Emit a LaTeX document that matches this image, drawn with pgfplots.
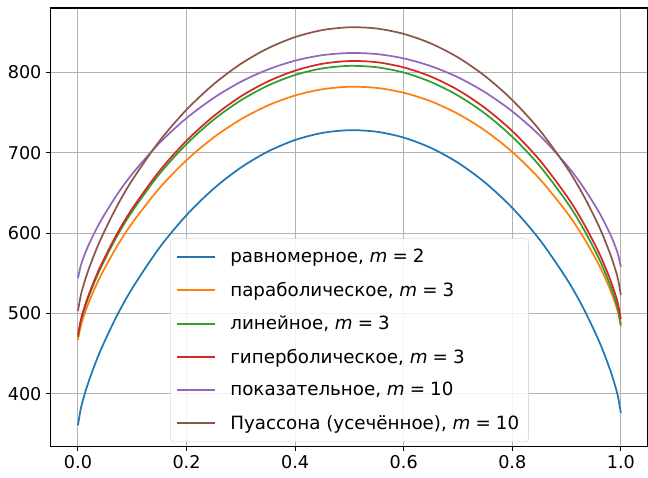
\documentclass[border=0pt]{standalone}
\usepackage{fontspec}
\setmainfont{DejaVu Sans}
\usepackage{pgfplots}
\pgfplotsset{compat=1.18}
\definecolor{c0}{HTML}{1F77B4}
\definecolor{c1}{HTML}{FF7F0E}
\definecolor{c2}{HTML}{2CA02C}
\definecolor{c3}{HTML}{D62728}
\definecolor{c4}{HTML}{9467BD}
\definecolor{c5}{HTML}{8C564B}
\newcommand{\fs}{\fontsize{13.2}{15}\selectfont}
\newcommand{\lfs}{\fontsize{13.7}{15}\selectfont}
\begin{document}
\begin{tikzpicture}
\begin{axis}[
  scale only axis, width=447.75pt, height=328.5pt,
  xmin=-0.05, xmax=1.05, ymin=335, ymax=880,
  xtick={0,0.2,0.4,0.6,0.8,1.0},
  ytick={400,500,600,700,800},
  /pgf/number format/assume math mode=true,
  x tick label style={/pgf/number format/.cd, fixed, fixed zerofill, precision=1, /tikz/.cd},
  tick label style={font=\fs},
  grid=major, major grid style={color=gray!60, line width=0.8pt},
  tick align=outside, tick pos=left, major tick length=3.5pt,
  axis line style={line width=0.9pt},
  every tick/.style={black, line width=0.8pt},
  legend style={
    at={(0.5,0)}, anchor=south, yshift=3pt,
    draw=gray!30, rounded corners=2.5pt, fill=white, fill opacity=0.85, text opacity=1, draw opacity=1,
    font=\lfs, inner xsep=5pt, inner ysep=6pt, row sep=9pt,
    cells={anchor=west},
    /tikz/every odd column/.append style={column sep=9.5pt},
  },
  legend image code/.code={\fill[#1, fill opacity=1, draw=none, sharp corners] (0pt,-0.7pt) rectangle (28.5pt,0.7pt);},
  every axis plot/.append style={line width=1.3pt, smooth, no markers},
]
\addplot[c0] table {
0 361.0
0.005 380.9
0.01 394.1
0.02 415.9
0.04 451.5
0.07 494.9
0.1 531.3
0.15 581.7
0.2 622.4
0.25 655.3
0.3 681.5
0.35 701.5
0.4 715.8
0.45 724.6
0.5 728.0
0.55 726.1
0.6 718.8
0.65 706.0
0.7 687.5
0.75 662.8
0.8 631.4
0.85 592.2
0.9 543.3
0.93 507.8
0.96 465.3
0.98 430.3
0.99 408.8
0.995 395.7
1 376.0
};
\addlegendentry{равномерное, \textit{m}\;=\;2}
\addplot[c1] table {
0 467.0
0.005 484.0
0.01 495.3
0.02 513.9
0.04 544.3
0.07 581.4
0.1 612.6
0.15 655.8
0.2 690.7
0.25 719.0
0.3 741.5
0.35 758.8
0.4 771.2
0.45 778.9
0.5 782.0
0.55 780.6
0.6 774.6
0.65 763.9
0.7 748.3
0.75 727.5
0.8 700.9
0.85 667.7
0.9 626.2
0.93 596.0
0.96 560.0
0.98 530.3
0.99 511.9
0.995 500.8
1 484.0
};
\addlegendentry{параболическое, \textit{m}\;=\;3}
\addplot[c2] table {
0 471.0
0.005 489.2
0.01 501.4
0.02 521.4
0.04 554.0
0.07 593.8
0.1 627.2
0.15 673.5
0.2 710.8
0.25 741.1
0.3 765.1
0.35 783.5
0.4 796.7
0.45 804.8
0.5 808.0
0.55 806.3
0.6 799.7
0.65 788.0
0.7 771.1
0.75 748.6
0.8 719.8
0.85 684.0
0.9 639.2
0.93 606.7
0.96 567.8
0.98 535.8
0.99 516.1
0.995 504.1
1 486.0
};
\addlegendentry{линейное, \textit{m}\;=\;3}
\addplot[c3] table {
0 473.0
0.005 491.3
0.01 503.6
0.02 523.7
0.04 556.6
0.07 596.7
0.1 630.4
0.15 677.1
0.2 714.9
0.25 745.5
0.3 770.0
0.35 788.7
0.4 802.1
0.45 810.6
0.5 814.0
0.55 812.6
0.6 806.1
0.65 794.7
0.7 778.0
0.75 755.5
0.8 726.9
0.85 691.1
0.9 646.4
0.93 613.9
0.96 575.0
0.98 542.9
0.99 523.2
0.995 511.1
1 493.0
};
\addlegendentry{гиперболическое, \textit{m}\;=\;3}
\addplot[c4] table {
0 544.0
0.005 559.1
0.01 569.2
0.02 585.8
0.04 612.8
0.07 645.8
0.1 673.6
0.15 712.0
0.2 743.0
0.25 768.1
0.3 788.2
0.35 803.5
0.4 814.5
0.45 821.3
0.5 824.0
0.55 822.7
0.6 817.3
0.65 807.7
0.7 793.8
0.75 775.1
0.8 751.4
0.85 721.8
0.9 684.8
0.93 657.9
0.96 625.7
0.98 599.2
0.99 582.9
0.995 573.0
1 558.0
};
\addlegendentry{показательное, \textit{m}\;=\;10}
\addplot[c5] table {
0 503.0
0.005 522.0
0.01 534.7
0.02 555.5
0.04 589.6
0.07 631.1
0.1 666.0
0.15 714.4
0.2 753.5
0.25 785.2
0.3 810.5
0.35 829.9
0.4 843.8
0.45 852.5
0.5 856.0
0.55 854.5
0.6 847.8
0.65 835.9
0.7 818.5
0.75 795.2
0.8 765.5
0.85 728.4
0.9 682.0
0.93 648.2
0.96 607.9
0.98 574.7
0.99 554.3
0.995 541.9
1 523.0
};
\addlegendentry{Пуассона (усечённое), \textit{m}\;=\;10}
\end{axis}
\pgfresetboundingbox
\path ([xshift=-38.1pt,yshift=-23.25pt]current axis.south west) rectangle ([yshift=6pt]current axis.north east);
\end{tikzpicture}
\end{document}
